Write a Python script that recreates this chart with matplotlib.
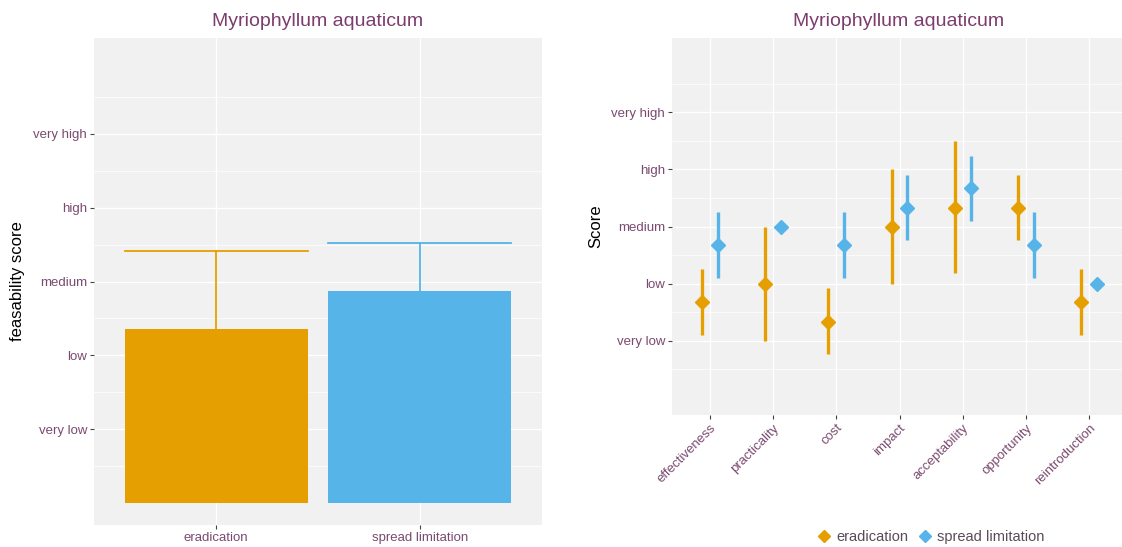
import matplotlib
matplotlib.use("Agg")
import matplotlib.pyplot as plt
import numpy as np
from matplotlib.lines import Line2D

# ---- data ----
score_labels = ["very low", "low", "medium", "high", "very high"]
score_values = [1, 2, 3, 4, 5]

strategies = ["eradication", "spread limitation"]
feas_mean = [2.35, 2.87]
feas_upper = [3.41, 3.52]

criteria = ["effectiveness", "practicality", "cost", "impact",
            "acceptability", "opportunity", "reintroduction"]
erad_mean = [1.67, 2.00, 1.33, 3.00, 3.33, 3.33, 1.67]
erad_low = [1.10, 1.00, 0.77, 2.00, 2.19, 2.77, 1.10]
erad_high = [2.25, 3.00, 1.92, 4.00, 4.49, 3.91, 2.25]
spread_mean = [2.67, 3.00, 2.67, 3.33, 3.67, 2.67, 2.00]
spread_low = [2.10, 3.00, 2.10, 2.77, 3.10, 2.10, 2.00]
spread_high = [3.25, 3.00, 3.25, 3.91, 4.24, 3.25, 2.00]

# ---- style ----
ORANGE = "#E69F00"
BLUE = "#56B4E9"
PURPLE = "#7d3c6e"
TICKC = "#7a4a70"
BG = "#f1f1f1"
FONT = "Liberation Sans"
plt.rcParams["font.family"] = [FONT, "DejaVu Sans"]

W, H = 1122, 547
fig = plt.figure(figsize=(W / 100, H / 100), dpi=100)


def px_axes(x0, y0, x1, y1):
    return fig.add_axes([x0 / W, 1 - y1 / H, (x1 - x0) / W, (y1 - y0) / H])


def style_axes(ax):
    ax.set_facecolor(BG)
    for s in ax.spines.values():
        s.set_visible(False)
    ax.set_ylim(-0.3, 6.3)
    ax.set_yticks(score_values)
    ax.set_yticklabels(score_labels)
    ax.set_yticks([0.5, 1.5, 2.5, 3.5, 4.5, 5.5], minor=True)
    ax.grid(True, which="major", color="white", lw=1.0)
    ax.grid(True, which="minor", axis="y", color="white", lw=0.5)
    ax.set_axisbelow(True)
    ax.tick_params(axis="both", which="major", length=3, width=0.8,
                   color="#444444", labelcolor=TICKC, labelsize=9.5, pad=2)
    ax.tick_params(axis="both", which="minor", length=0)


# ---- left panel ----
ax1 = px_axes(94, 38, 542, 525)
style_axes(ax1)
x1 = np.arange(1, len(strategies) + 1)
ax1.set_xlim(0.4, 2.6)
cols = [ORANGE, BLUE]
for xi, m, u, c in zip(x1, feas_mean, feas_upper, cols):
    ax1.plot([xi, xi], [m, u], color=c, lw=1.3, zorder=2)
    ax1.plot([xi - 0.45, xi + 0.45], [u, u], color=c, lw=1.3, zorder=2)
ax1.bar(x1, feas_mean, width=0.9, color=cols, zorder=3)
ax1.set_xticks(x1)
ax1.set_xticklabels(strategies)
ax1.set_ylabel("feasability score", fontsize=12, color="black", labelpad=6)
ax1.set_title("Myriophyllum aquaticum", fontsize=14, color=PURPLE, pad=9)

# ---- right panel ----
ax2 = px_axes(672, 38, 1127, 415)
style_axes(ax2)
x2 = np.arange(1, len(criteria) + 1)
ax2.set_xlim(0.4, 7.6)
d = 0.125
ax2.vlines(x2 - d, erad_low, erad_high, color=ORANGE, lw=2.4, zorder=3)
ax2.vlines(x2 + d, spread_low, spread_high, color=BLUE, lw=2.4, zorder=3)
ax2.plot(x2 - d, erad_mean, "D", color=ORANGE, ms=7, ls="none", zorder=4)
ax2.plot(x2 + d, spread_mean, "D", color=BLUE, ms=7, ls="none", zorder=4)
ax2.set_xticks(x2)
ax2.set_xticklabels(criteria, rotation=45, ha="right", rotation_mode="anchor")
ax2.set_ylabel("Score", fontsize=12, color="black", labelpad=6)
ax2.set_title("Myriophyllum aquaticum", fontsize=14, color=PURPLE, pad=9,
              x=(899 - 672) / (1127 - 672))

handles = [Line2D([], [], marker="D", color=ORANGE, ls="none", ms=6),
           Line2D([], [], marker="D", color=BLUE, ls="none", ms=6)]
fig.legend(handles, strategies, loc="center", bbox_to_anchor=(930 / W, 1 - 537 / H),
           ncol=2, frameon=False, fontsize=10.5, handletextpad=0.2,
           columnspacing=0.6, handlelength=1.2, labelcolor="#5a4a5a")

fig.savefig("out.png", dpi=100)
